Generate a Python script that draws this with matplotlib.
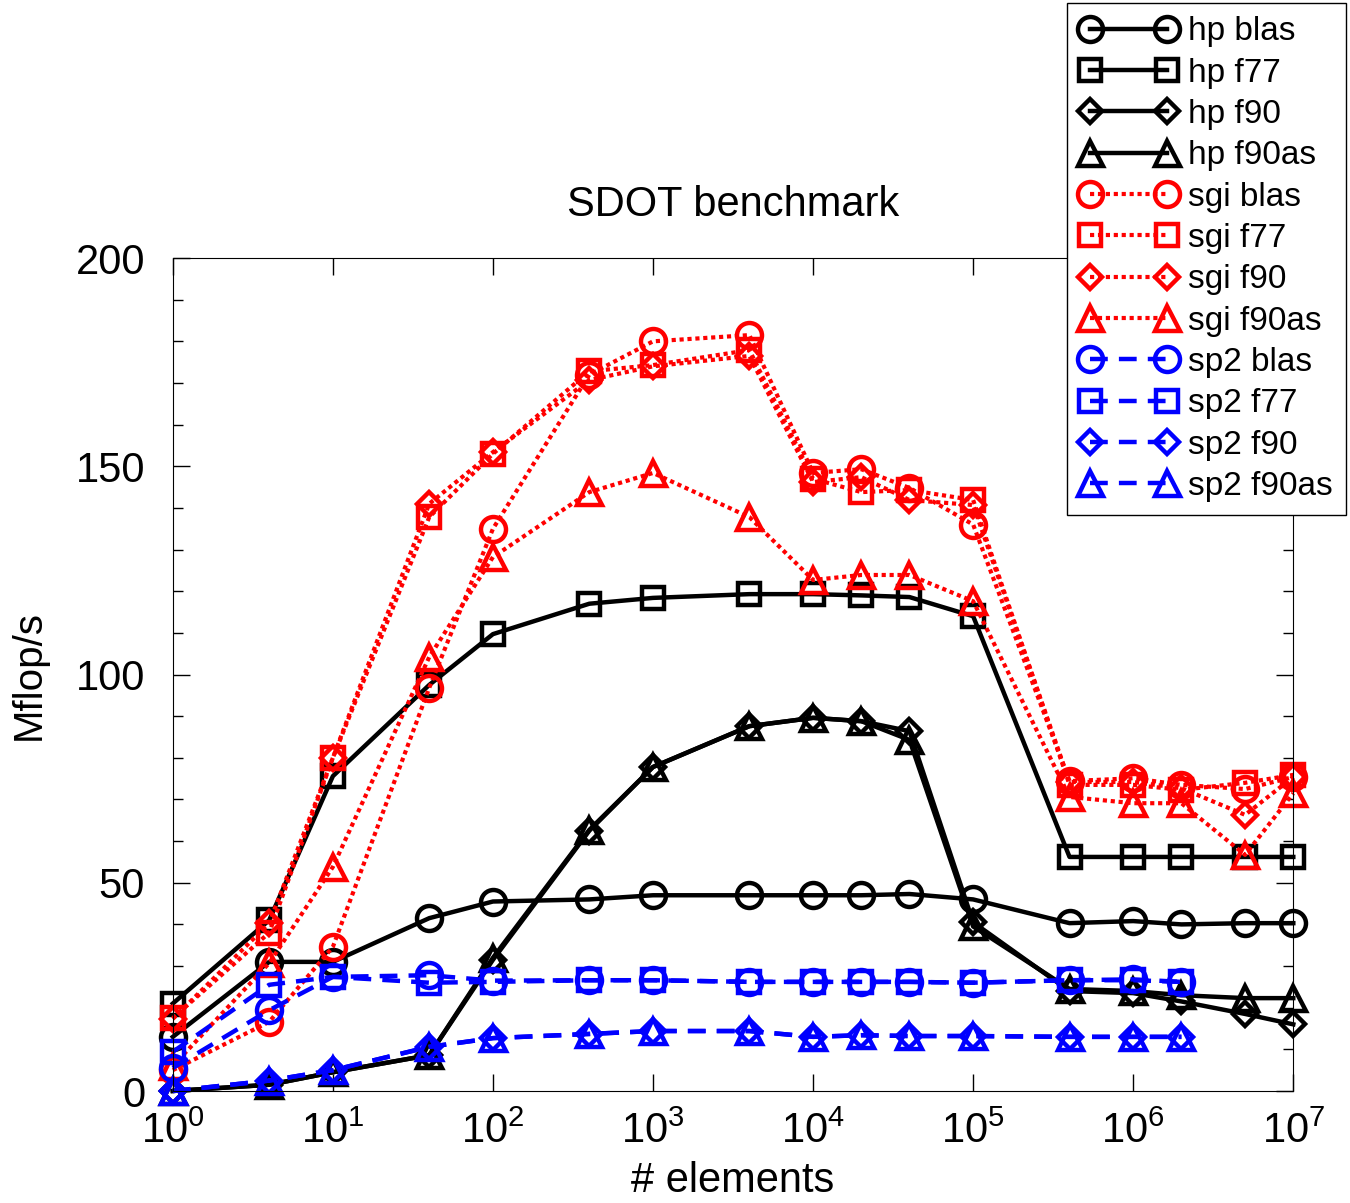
import numpy as np
import matplotlib
matplotlib.use("Agg")
import matplotlib.pyplot as plt

plt.rcParams['font.family'] = ['Liberation Sans', 'DejaVu Sans']
plt.rcParams['mathtext.fontset'] = 'custom'
plt.rcParams['mathtext.rm'] = 'Liberation Sans'
plt.rcParams['mathtext.it'] = 'Liberation Sans'

# number of elements
n = [1, 4, 10, 40, 100, 400, 1e3, 4e3, 1e4, 2e4, 4e4, 1e5, 4e5, 1e6, 2e6, 5e6, 1e7]
n_sp2 = n[:15]

# Mflop/s
hp_blas   = [13, 31, 31, 41.5, 45.5, 46, 47, 47, 47, 47, 47.3, 46, 40.3, 40.8, 40, 40.3, 40.3]
hp_f77    = [21, 41, 75.6, 97.5, 109.7, 117, 118.4, 119.3, 119.3, 119, 118.6, 114, 56.2, 56.2, 56.2, 56.2, 56.2]
hp_f90    = [0, 1.5, 4.5, 8.6, 31.5, 62.5, 77.8, 87.6, 89.6, 88.8, 86.4, 40.5, 24, 23.5, 21.5, 18.5, 16]
hp_f90as  = [0, 1.5, 4.5, 8.6, 32, 62.7, 77.8, 87.6, 89.6, 88.8, 84.3, 39.5, 24.5, 24, 23, 22.3, 22.3]
sgi_blas  = [5, 16.6, 34.6, 96.8, 135, 172, 180, 181.5, 148.4, 149.3, 144.8, 136, 74.4, 75.1, 73.5, 72.5, 75.4]
sgi_f77   = [17.5, 38, 80, 137.8, 153, 172.8, 174.3, 177.9, 147, 143.8, 144.3, 141.9, 73.5, 73.5, 72.3, 74, 75.9]
sgi_f90   = [17.3, 40.3, 80, 141, 153.4, 170.7, 174, 176.5, 146.2, 147.4, 141.9, 140.7, 74.2, 74.2, 72.7, 66.3, 75.4]
sgi_f90as = [6, 30.7, 53.8, 104.2, 128.2, 143.8, 148.4, 137.8, 122.7, 123.9, 123.9, 117.6, 70.6, 69.1, 69.1, 56.7, 71.5]
sp2_blas  = [5.5, 19.4, 27.4, 27.8, 26.5, 26.6, 26.6, 26.2, 26.2, 26.2, 26.2, 26, 26.6, 26.8, 26.2]
sp2_f77   = [9.4, 25.5, 27.4, 26, 26.2, 26.6, 26.6, 26.2, 26.2, 26.2, 26.2, 26, 26.6, 26.6, 26.2]
sp2_f90   = [0, 2.5, 5, 10.6, 12.7, 13.7, 14.4, 14.4, 13, 13.4, 13.2, 13.2, 13, 13, 13]
sp2_f90as = [0, 2.5, 5, 10.6, 12.7, 13.7, 14.4, 14.4, 13, 13.4, 13.2, 13.2, 13, 13, 13]

labels = ['hp blas', 'hp f77', 'hp f90', 'hp f90as',
          'sgi blas', 'sgi f77', 'sgi f90', 'sgi f90as',
          'sp2 blas', 'sp2 f77', 'sp2 f90', 'sp2 f90as']

fig = plt.figure(figsize=(13.5, 12.03), dpi=100)
ax = fig.add_axes([0.128, 0.0931, 0.830, 0.6924])

# marker sizes per shape
msize = {'o': 18, 's': 16, 'D': 12.5, '^': 18}

black = dict(color='black', linestyle='-', linewidth=3.2)
red = dict(color='red', linestyle=(0, (1, 0.9)), linewidth=3)
blue = dict(color='blue', linestyle=(0, (4, 2.5)), linewidth=3.2)


def draw(x, y, mk, lab, style):
    ax.plot(x, y, marker=mk, markersize=msize[mk], markeredgewidth=3.2,
            markerfacecolor='none', label=lab, clip_on=False, **style)


draw(n, hp_blas, 'o', labels[0], black)
draw(n, hp_f77, 's', labels[1], black)
draw(n, hp_f90, 'D', labels[2], black)
draw(n, hp_f90as, '^', labels[3], black)
draw(n, sgi_blas, 'o', labels[4], red)
draw(n, sgi_f77, 's', labels[5], red)
draw(n, sgi_f90, 'D', labels[6], red)
draw(n, sgi_f90as, '^', labels[7], red)
draw(n_sp2, sp2_blas, 'o', labels[8], blue)
draw(n_sp2, sp2_f77, 's', labels[9], blue)
draw(n_sp2, sp2_f90, 'D', labels[10], blue)
draw(n_sp2, sp2_f90as, '^', labels[11], blue)

ax.set_xscale('log')
ax.set_xlim(1, 1e7)
ax.set_ylim(0, 200)
ax.set_yticks([0, 50, 100, 150, 200])
ax.set_yticks(np.arange(0, 201, 10), minor=True)
ax.xaxis.set_minor_locator(matplotlib.ticker.NullLocator())
ax.tick_params(which='both', direction='in', top=True, right=True, labelsize=30)
ax.tick_params(which='major', length=12, width=1)
ax.tick_params(which='minor', length=7, width=1)
ax.tick_params(axis='y', which='major', pad=20)
ax.tick_params(axis='x', which='major', pad=15)

ax.set_xlabel('# elements', fontsize=30, labelpad=6)
ax.set_ylabel('Mflop/s', fontsize=29, labelpad=20)
ax.set_title('SDOT benchmark', fontsize=30, pad=30)

leg = ax.legend(loc='upper right', bbox_to_anchor=(1.0473, 1.306), numpoints=2,
                fontsize=24, handlelength=2.9, handletextpad=0.35, labelspacing=0.31,
                borderpad=0.4, borderaxespad=0, fancybox=False, framealpha=1,
                edgecolor='black')
leg.get_frame().set_linewidth(1)

fig.savefig('out.png', dpi=100)
